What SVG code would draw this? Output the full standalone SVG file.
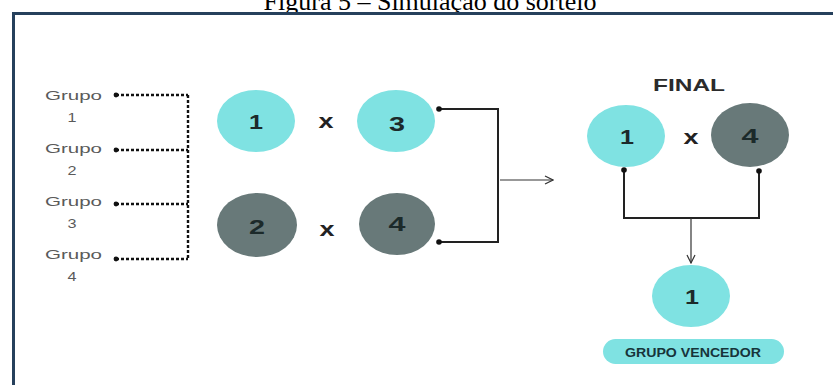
<svg xmlns="http://www.w3.org/2000/svg" width="833" height="385" viewBox="0 0 833 385">
  <defs>
    <style>
      .title { font-family: "Liberation Serif", "Times New Roman", serif; font-size: 26px; fill: #000; }
      .grp { font-family: "Liberation Sans", Arial, sans-serif; font-size: 13.5px; fill: #5a5a5a; }
      .grpn { font-family: "Liberation Sans", Arial, sans-serif; font-size: 13.5px; fill: #5a5a5a; text-anchor: middle; }
      .num { font-family: "Liberation Sans", Arial, sans-serif; font-size: 21px; font-weight: bold; fill: #1c2a2a; text-anchor: middle; }
      .vs { font-family: "Liberation Sans", Arial, sans-serif; font-size: 20px; font-weight: bold; fill: #222; text-anchor: middle; }
      .head { font-family: "Liberation Sans", Arial, sans-serif; font-size: 17px; font-weight: bold; fill: #2b2b2b; }
      .tag { font-family: "Liberation Sans", Arial, sans-serif; font-size: 13px; font-weight: bold; fill: #17343a; }
      .cyan { fill: #7fe2e2; }
      .grey { fill: #687979; }
      .dotted { fill: none; stroke: #111; stroke-width: 2.4; stroke-dasharray: 3 2; }
      .wire { fill: none; stroke: #222; stroke-width: 2; }
      .thin { fill: none; stroke: #333; stroke-width: 1.2; }
      .pin { fill: #111; }
    </style>
    <marker id="chev" viewBox="0 0 10 10" refX="9" refY="5" markerWidth="10" markerHeight="10" markerUnits="userSpaceOnUse" orient="auto">
      <path d="M1,1 L9,5 L1,9" fill="none" stroke="#333" stroke-width="1.2"/>
    </marker>
  </defs>

  <rect x="0" y="0" width="833" height="385" fill="#fff"/>

  <!-- caption, partly above the frame -->
  <text class="title" x="430" y="9.5" text-anchor="middle">Figura 5 – Simulação do sorteio</text>

  <!-- frame: top and left edges -->
  <path d="M13.5,385 V13.5 H833" fill="none" stroke="#26405c" stroke-width="3"/>

  <!-- group labels -->
  <g id="grupo1">
    <text class="grp" x="45" y="99.5" textLength="57" lengthAdjust="spacingAndGlyphs">Grupo</text>
    <text class="grpn" x="72" y="122" textLength="9" lengthAdjust="spacingAndGlyphs">1</text>
  </g>
  <g id="grupo2">
    <text class="grp" x="45" y="152.5" textLength="57" lengthAdjust="spacingAndGlyphs">Grupo</text>
    <text class="grpn" x="72" y="175" textLength="9" lengthAdjust="spacingAndGlyphs">2</text>
  </g>
  <g id="grupo3">
    <text class="grp" x="45" y="205.5" textLength="57" lengthAdjust="spacingAndGlyphs">Grupo</text>
    <text class="grpn" x="72" y="228" textLength="9" lengthAdjust="spacingAndGlyphs">3</text>
  </g>
  <g id="grupo4">
    <text class="grp" x="45" y="258.5" textLength="57" lengthAdjust="spacingAndGlyphs">Grupo</text>
    <text class="grpn" x="72" y="281" textLength="9" lengthAdjust="spacingAndGlyphs">4</text>
  </g>

  <!-- semifinal teams -->
  <g id="semi1-a">
    <ellipse class="cyan" cx="256" cy="121" rx="39" ry="31"/>
    <text class="num" x="256" y="129" textLength="14" lengthAdjust="spacingAndGlyphs">1</text>
  </g>
  <g id="semi1-b">
    <ellipse class="cyan" cx="396" cy="121" rx="39" ry="31"/>
    <text class="num" x="397" y="131" textLength="16" lengthAdjust="spacingAndGlyphs">3</text>
  </g>
  <g id="semi2-a">
    <ellipse class="grey" cx="257" cy="225" rx="40" ry="32"/>
    <text class="num" x="257" y="234" textLength="16" lengthAdjust="spacingAndGlyphs">2</text>
  </g>
  <g id="semi2-b">
    <ellipse class="grey" cx="397" cy="224" rx="38" ry="31"/>
    <text class="num" x="397" y="231" textLength="17" lengthAdjust="spacingAndGlyphs">4</text>
  </g>
  <g id="versus">
    <text class="vs" x="326" y="128" textLength="15" lengthAdjust="spacingAndGlyphs">x</text>
    <text class="vs" x="327" y="236" textLength="15" lengthAdjust="spacingAndGlyphs">x</text>
  </g>

  <!-- final -->
  <g id="final-title">
    <text class="head" x="653" y="91" textLength="72" lengthAdjust="spacingAndGlyphs">FINAL</text>
  </g>
  <g id="final-a">
    <ellipse class="cyan" cx="626" cy="136" rx="39" ry="31"/>
    <text class="num" x="627" y="144" textLength="14" lengthAdjust="spacingAndGlyphs">1</text>
  </g>
  <g id="final-b">
    <ellipse class="grey" cx="750" cy="135" rx="39" ry="32"/>
    <text class="num" x="750" y="143" textLength="17" lengthAdjust="spacingAndGlyphs">4</text>
  </g>
  <g id="final-versus">
    <text class="vs" x="691" y="144" textLength="15" lengthAdjust="spacingAndGlyphs">x</text>
  </g>

  <!-- winner -->
  <g id="vencedor">
    <ellipse class="cyan" cx="691" cy="296" rx="39" ry="31"/>
    <text class="num" x="692" y="304" textLength="14" lengthAdjust="spacingAndGlyphs">1</text>
  </g>
  <g id="grupo-vencedor">
    <rect class="cyan" x="603" y="339" width="181" height="25" rx="12.5"/>
    <text class="tag" x="625" y="357" textLength="136" lengthAdjust="spacingAndGlyphs">GRUPO VENCEDOR</text>
  </g>

  <!-- connectors -->
  <g id="connectors">
    <!-- draw bracket -->
    <path class="dotted" d="M116,95 H188 M116,150 H188 M116,204 H188 M116,259 H188 M188,95 V259"/>
    <circle class="pin" cx="116" cy="95" r="2.4"/>
    <circle class="pin" cx="116" cy="150" r="2.4"/>
    <circle class="pin" cx="116" cy="204" r="2.4"/>
    <circle class="pin" cx="116" cy="259" r="2.4"/>

    <!-- semifinal bracket -->
    <path class="wire" d="M439,109 H498 V242 H439"/>
    <circle class="pin" cx="439" cy="109" r="2.8"/>
    <circle class="pin" cx="439" cy="242" r="2.8"/>
    <path class="thin" d="M500,180 H553" marker-end="url(#chev)"/>

    <!-- final bracket -->
    <path class="wire" d="M624,170 V218 H759 V171"/>
    <circle class="pin" cx="624" cy="170" r="2.8"/>
    <circle class="pin" cx="759" cy="171" r="2.8"/>
    <path class="thin" d="M691,218 V263" marker-end="url(#chev)"/>
  </g>
</svg>
